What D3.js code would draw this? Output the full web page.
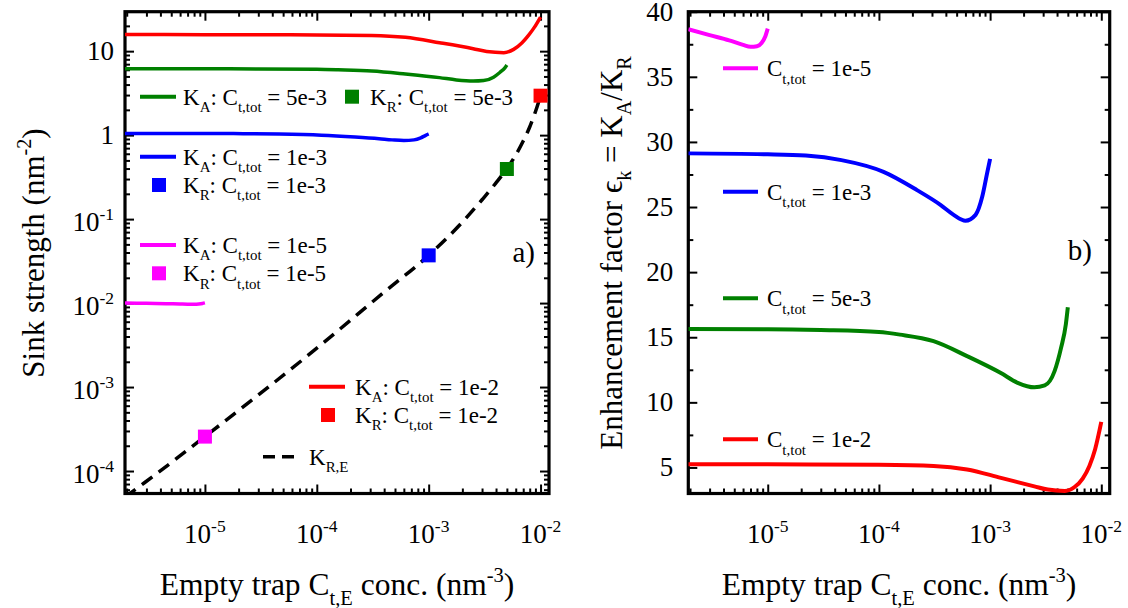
<!DOCTYPE html>
<html>
<head>
<meta charset="utf-8">
<script src="https://cdn.jsdelivr.net/npm/d3@7"></script>
<style>
  body { margin: 0; background: #fff; }
  svg { font-family: "Liberation Serif", "Times New Roman", serif; }
  text { white-space: pre; }
</style>
</head>
<body>
<div id="chart"></div>
<script>
// ---- data ----
const concTicks = [1e-5, 1e-4, 1e-3, 1e-2];
const sinkTicks = [1e-4, 1e-3, 1e-2, 1e-1, 1, 10];
const enhTicks = [5, 10, 15, 20, 25, 30, 35, 40];
const enhMinorTicks = [7.5, 12.5, 17.5, 22.5, 27.5, 32.5, 37.5];

// C_t,tot = 1e-2 (red)
const redConc = [1.93e-6, 1e-5, 1e-4, 3.1e-4, 6.2e-4, 1.25e-3, 2.5e-3, 3.3e-3, 4.7e-3, 5.75e-3, 6.8e-3, 7.8e-3, 8.8e-3, 1e-2];
const redKA   = [15.8, 15.7, 15.6, 15.4, 14.6, 12.6, 10.7, 9.9, 9.6, 10.5, 12.5, 15.4, 19.2, 25.5];
const redEps  = [5.25, 5.24, 5.2, 5.12, 4.85, 4.2, 3.55, 3.3, 3.2, 3.5, 4.15, 5.1, 6.4, 8.5];

// C_t,tot = 5e-3 (green)
const greenConc = [1.93e-6, 1e-5, 3e-5, 1e-4, 1.55e-4, 3.1e-4, 6.2e-4, 1.25e-3, 1.77e-3, 2.5e-3, 3.1e-3, 3.8e-3, 4.35e-3, 4.8e-3, 5e-3];
const greenKA   = [6.18, 6.17, 6.14, 6.08, 6.0, 5.81, 5.35, 4.84, 4.54, 4.4, 4.46, 4.9, 5.61, 6.32, 6.83];
const greenEps  = [15.64, 15.62, 15.55, 15.4, 15.2, 14.7, 13.55, 12.25, 11.5, 11.15, 11.3, 12.4, 14.2, 16.0, 17.3];

// C_t,tot = 1e-3 (blue)
const blueConc = [1.93e-6, 1e-5, 2.2e-5, 4.6e-5, 1.1e-4, 2.2e-4, 3.6e-4, 4.7e-4, 6e-4, 7.4e-4, 8.5e-4, 9.4e-4, 1e-3];
const blueKA   = [1.048, 1.046, 1.042, 1.03, 0.997, 0.947, 0.905, 0.878, 0.862, 0.878, 0.929, 0.994, 1.033];
const blueEps  = [29.12, 29.05, 28.95, 28.6, 27.7, 26.3, 25.15, 24.4, 23.95, 24.4, 25.8, 27.6, 28.7];

// C_t,tot = 1e-5 (magenta)
const magConc = [1.93e-6, 3e-6, 4.5e-6, 6e-6, 7e-6, 8e-6, 8.8e-6, 9.5e-6, 1e-5];
const magKA   = [0.01005, 0.00993, 0.00983, 0.00974, 0.0097, 0.00971, 0.00978, 0.00991, 0.01006];
const magEps  = [38.65, 38.2, 37.8, 37.45, 37.3, 37.35, 37.6, 38.1, 38.7];

// K_R squares
const krConc = [1e-5, 1e-3, 5e-3, 1e-2];
const krValue = [2.57e-4, 0.037, 0.395, 2.95];
const krColors = ["#ff00ff", "#0000ff", "#008000", "#ff0000"];

// K_R,E dashed curve
const kreConc  = [1.93e-6, 2.9e-6, 1e-5, 1e-4, 4e-4, 1e-3, 2e-3, 3e-3, 4e-3, 5e-3, 6e-3, 7e-3, 8e-3, 9e-3, 1e-2];
const kreValue = [4.9e-5, 7.3e-5, 2.57e-4, 2.9e-3, 0.0135, 0.037, 0.092, 0.17, 0.27, 0.40, 0.58, 0.85, 1.25, 1.9, 2.95];

const series = [
  { conc: redConc, ka: redKA, eps: redEps, color: "#ff0000", tot: "1e-2" },
  { conc: greenConc, ka: greenKA, eps: greenEps, color: "#008000", tot: "5e-3" },
  { conc: blueConc, ka: blueKA, eps: blueEps, color: "#0000ff", tot: "1e-3" },
  { conc: magConc, ka: magKA, eps: magEps, color: "#ff00ff", tot: "1e-5" }
];

// ---- layout ----
const W = 1128, H = 608;
const panelA = { left: 125, right: 549, top: 11.7, bottom: 493.5 };
const panelB = { left: 688.3, right: 1109.7, top: 11.7, bottom: 493.5 };

const svg = d3.select("#chart").append("svg")
    .attr("width", W).attr("height", H);

const xA = d3.scaleLog().domain([1.93e-6, 1.19e-2]).range([panelA.left, panelA.right]);
const yA = d3.scaleLog().domain([5.4e-5, 29.5]).range([panelA.bottom, panelA.top]);
const xB = d3.scaleLog().domain([1.93e-6, 1.19e-2]).range([panelB.left, panelB.right]);
const yB = d3.scaleLinear().domain([3, 40]).range([panelB.bottom, panelB.top]);

function logMinors(scale) {
    const [lo, hi] = scale.domain();
    let out = [];
    for (let e = Math.floor(Math.log10(lo)); e <= Math.ceil(Math.log10(hi)); e++) {
        for (let k = 2; k <= 9; k++) {
            const v = k * Math.pow(10, e);
            if (v > lo && v < hi) out.push(v);
        }
    }
    return out;
}

// text with sub / superscripts: parts = [[string, "sub"|"sup"|null], ...]
function rich(textSel, parts, size) {
    let shift = 0;
    parts.forEach(p => {
        const str = p[0], kind = p[1];
        const target = kind === "sub" ? size * 0.32 : kind === "sup" ? -size * 0.42 : 0;
        textSel.append("tspan")
            .attr("dy", target - shift)
            .attr("font-size", kind ? size * 0.65 : size)
            .text(str);
        shift = target;
    });
    return textSel;
}

function drawFrame(p, x, y, xMinor, yMajor, yMinor) {
    const g = svg.append("g");
    const tickStyle = sel => {
        sel.select(".domain").remove();
        sel.selectAll("line").attr("stroke", "#000").attr("stroke-width", 2);
    };
    g.append("g").attr("transform", `translate(0,${p.bottom})`)
        .call(d3.axisBottom(x).tickValues(concTicks).tickSize(-9).tickFormat("")).call(tickStyle);
    g.append("g").attr("transform", `translate(0,${p.bottom})`)
        .call(d3.axisBottom(x).tickValues(xMinor).tickSize(-5).tickFormat("")).call(tickStyle);
    g.append("g").attr("transform", `translate(0,${p.top})`)
        .call(d3.axisTop(x).tickValues(concTicks).tickSize(-9).tickFormat("")).call(tickStyle);
    g.append("g").attr("transform", `translate(0,${p.top})`)
        .call(d3.axisTop(x).tickValues(xMinor).tickSize(-5).tickFormat("")).call(tickStyle);
    g.append("g").attr("transform", `translate(${p.left},0)`)
        .call(d3.axisLeft(y).tickValues(yMajor).tickSize(-9).tickFormat("")).call(tickStyle);
    g.append("g").attr("transform", `translate(${p.left},0)`)
        .call(d3.axisLeft(y).tickValues(yMinor).tickSize(-5).tickFormat("")).call(tickStyle);
    g.append("g").attr("transform", `translate(${p.right},0)`)
        .call(d3.axisRight(y).tickValues(yMajor).tickSize(-9).tickFormat("")).call(tickStyle);
    g.append("g").attr("transform", `translate(${p.right},0)`)
        .call(d3.axisRight(y).tickValues(yMinor).tickSize(-5).tickFormat("")).call(tickStyle);
    g.append("rect")
        .attr("x", p.left).attr("y", p.top)
        .attr("width", p.right - p.left).attr("height", p.bottom - p.top)
        .attr("fill", "none").attr("stroke", "#000").attr("stroke-width", 3.2);

    // x tick labels 10^n
    concTicks.forEach(t => {
        const e = Math.round(Math.log10(t));
        rich(g.append("text").attr("x", x(t)).attr("y", 543).attr("text-anchor", "middle"),
            [["10", null], [String(e), "sup"]], 27);
    });
    return g;
}

function clip(id, p) {
    svg.append("clipPath").attr("id", id).append("rect")
        .attr("x", p.left).attr("y", p.top)
        .attr("width", p.right - p.left).attr("height", p.bottom - p.top);
}
clip("clipA", panelA);
clip("clipB", panelB);

// ---------------- panel a ----------------
const gA = drawFrame(panelA, xA, yA, logMinors(xA), sinkTicks, logMinors(yA));

sinkTicks.forEach(t => {
    const e = Math.round(Math.log10(t));
    const plain = e === 1 || e === 0;
    const parts = e === 1 ? [["10", null]] : e === 0 ? [["1", null]] : [["10", null], [String(e), "sup"]];
    rich(gA.append("text").attr("x", panelA.left - 11).attr("y", yA(t) + (plain ? 9 : 12))
        .attr("text-anchor", "end"), parts, 27);
});

const lineA = d3.line().curve(d3.curveMonotoneX);
const plotA = svg.append("g").attr("clip-path", "url(#clipA)");

series.forEach(s => {
    plotA.append("path")
        .attr("d", lineA(s.conc.map((c, i) => [xA(c), yA(s.ka[i])])))
        .attr("fill", "none").attr("stroke", s.color).attr("stroke-width", 3.5);
});

plotA.append("path")
    .attr("d", lineA(kreConc.map((c, i) => [xA(c), yA(kreValue[i])])))
    .attr("fill", "none").attr("stroke", "#000").attr("stroke-width", 3.5)
    .attr("stroke-dasharray", "13,8");

svg.append("g").selectAll("rect")
    .data(krConc)
    .enter()
    .append("rect")
    .attr("x", (d) => xA(d) - 7)
    .attr("y", (d, i) => yA(krValue[i]) - 7)
    .attr("width", 14).attr("height", 14)
    .attr("fill", (d, i) => krColors[i]);

// legend panel a
function legLine(g, x1, x2, y, color, dash) {
    g.append("line").attr("x1", x1).attr("x2", x2).attr("y1", y).attr("y2", y)
        .attr("stroke", color).attr("stroke-width", dash ? 3.5 : 4)
        .attr("stroke-dasharray", dash ? "12,7" : null);
}
function legSquare(g, cx, cy, color) {
    g.append("rect").attr("x", cx - 7).attr("y", cy - 7).attr("width", 14).attr("height", 14).attr("fill", color);
}
function kLabel(g, x, y, sub, tot) {
    rich(g.append("text").attr("x", x).attr("y", y + 8),
        [["K", null], [sub, "sub"], [": C", null], ["t,tot", "sub"], [" = " + tot, null]], 23);
}

const legA = svg.append("g");
// green
legLine(legA, 140, 176, 96.7, "#008000");
kLabel(legA, 183, 96.7, "A", "5e-3");
legSquare(legA, 352, 96.7, "#008000");
kLabel(legA, 370, 96.7, "R", "5e-3");
// blue
legLine(legA, 140, 176, 156.7, "#0000ff");
kLabel(legA, 183, 156.7, "A", "1e-3");
legSquare(legA, 159, 185, "#0000ff");
kLabel(legA, 183, 185, "R", "1e-3");
// magenta
legLine(legA, 140, 176, 245, "#ff00ff");
kLabel(legA, 183, 245, "A", "1e-5");
legSquare(legA, 159, 273.3, "#ff00ff");
kLabel(legA, 183, 273.3, "R", "1e-5");
// red
legLine(legA, 309, 345, 386.7, "#ff0000");
kLabel(legA, 355, 386.7, "A", "1e-2");
legSquare(legA, 328, 415, "#ff0000");
kLabel(legA, 355, 415, "R", "1e-2");
// K_R,E
legLine(legA, 263, 299, 456.7, "#000", true);
rich(legA.append("text").attr("x", 309).attr("y", 464.7), [["K", null], ["R,E", "sub"]], 23);

svg.append("text").attr("x", 535).attr("y", 262).attr("text-anchor", "end")
    .attr("font-size", 29).text("a)");

rich(svg.append("text").attr("transform", "translate(44,253) rotate(-90)").attr("text-anchor", "middle"),
    [["Sink strength (nm", null], ["-2", "sup"], [")", null]], 31);
rich(svg.append("text").attr("x", (panelA.left + panelA.right) / 2).attr("y", 595).attr("text-anchor", "middle"),
    [["Empty trap C", null], ["t,E", "sub"], [" conc. (nm", null], ["-3", "sup"], [")", null]], 31.5);

// ---------------- panel b ----------------
const gB = drawFrame(panelB, xB, yB, logMinors(xB), enhTicks, enhMinorTicks);

enhTicks.forEach(t => {
    gB.append("text").attr("x", panelB.left - 15).attr("y", yB(t) + 9)
        .attr("text-anchor", "end").attr("font-size", 27).text(t);
});

const plotB = svg.append("g").attr("clip-path", "url(#clipB)");
series.forEach(s => {
    plotB.append("path")
        .attr("d", lineA(s.conc.map((c, i) => [xB(c), yB(s.eps[i])])))
        .attr("fill", "none").attr("stroke", s.color).attr("stroke-width", 4);
});

const legB = svg.append("g");
const legBy = { "1e-5": 68.3, "1e-3": 191.7, "5e-3": 298.3, "1e-2": 439.3 };
series.forEach(s => {
    const yy = legBy[s.tot];
    legLine(legB, 723, 758, yy, s.color);
    rich(legB.append("text").attr("x", 767).attr("y", yy + 8),
        [["C", null], ["t,tot", "sub"], [" = " + s.tot, null]], 23);
});

svg.append("text").attr("x", 1092).attr("y", 260).attr("text-anchor", "end")
    .attr("font-size", 29).text("b)");

rich(svg.append("text").attr("transform", "translate(621.5,253) rotate(-90)").attr("text-anchor", "middle"),
    [["Enhancement factor \u03F5", null], ["k", "sub"], [" = K", null], ["A", "sub"], ["/K", null], ["R", "sub"]], 31);
rich(svg.append("text").attr("x", (panelB.left + panelB.right) / 2).attr("y", 595).attr("text-anchor", "middle"),
    [["Empty trap C", null], ["t,E", "sub"], [" conc. (nm", null], ["-3", "sup"], [")", null]], 31.5);
</script>
</body>
</html>
